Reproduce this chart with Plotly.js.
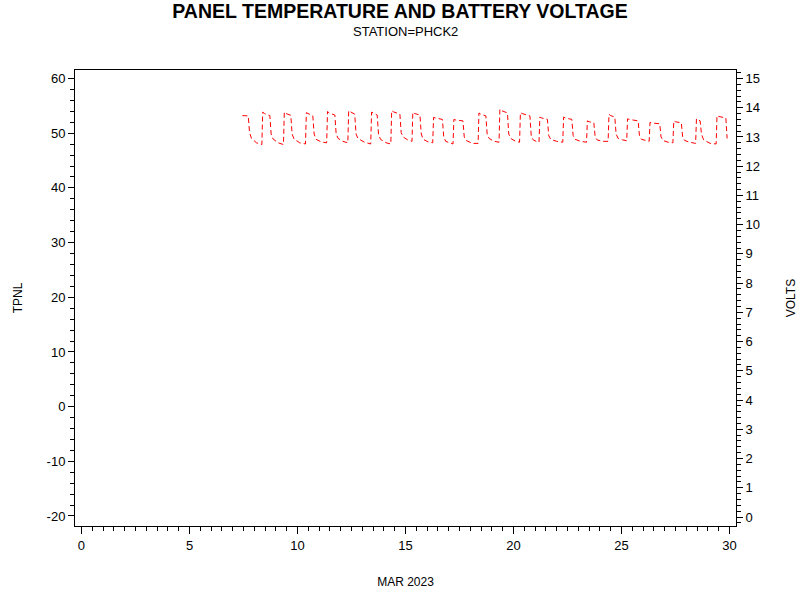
<!DOCTYPE html>
<html>
<head>
<meta charset="utf-8">
<script src="https://cdn.plot.ly/plotly-3.0.1.min.js"></script>
<style>html,body{margin:0;padding:0;background:#fff;}#chart{width:800px;height:600px;}</style>
</head>
<body>
<div id="chart"></div>
<script>
// Day of month (March 2023, fractional) and battery voltage readings
var voltDay = [
  7.45, 7.72, 7.78, 7.87, 8.10, 8.35,
  8.39, 8.47, 8.72, 8.78, 8.87, 9.10, 9.35,
  9.39, 9.47, 9.69, 9.75, 9.84, 10.10, 10.37,
  10.41, 10.50, 10.71, 10.77, 10.86, 11.10, 11.35,
  11.39, 11.47, 11.73, 11.79, 11.88, 12.10, 12.33,
  12.37, 12.45, 12.65, 12.71, 12.80, 13.10, 13.39,
  13.43, 13.50, 13.69, 13.75, 13.84, 14.10, 14.32,
  14.36, 14.44, 14.74, 14.80, 14.89, 15.10, 15.30,
  15.34, 15.42, 15.67, 15.73, 15.82, 16.05, 16.26,
  16.30, 16.38, 16.71, 16.77, 16.86, 17.05, 17.20,
  17.24, 17.32, 17.66, 17.72, 17.81, 18.10, 18.36,
  18.40, 18.48, 18.72, 18.78, 18.87, 19.10, 19.33,
  19.37, 19.45, 19.72, 19.78, 19.87, 20.10, 20.28,
  20.32, 20.40, 20.76, 20.82, 20.91, 21.05, 21.18,
  21.22, 21.30, 21.57, 21.63, 21.72, 22.00, 22.28,
  22.32, 22.40, 22.70, 22.76, 22.85, 23.10, 23.38,
  23.42, 23.50, 23.72, 23.78, 23.87, 24.10, 24.38,
  24.42, 24.50, 24.69, 24.75, 24.84, 25.05, 25.24,
  25.28, 25.36, 25.77, 25.83, 25.92, 26.10, 26.28,
  26.32, 26.40, 26.77, 26.83, 26.92, 27.15, 27.38,
  27.42, 27.50, 27.77, 27.83, 27.92, 28.15, 28.43,
  28.47, 28.52, 28.64, 28.70, 28.80, 29.10, 29.38,
  29.42, 29.50, 29.83, 29.89
];
var voltVal = [
  13.73, 13.72, 13.15, 12.95, 12.80, 12.74,
  13.85, 13.80, 13.73, 13.10, 12.93, 12.80, 12.74,
  13.85, 13.80, 13.74, 13.10, 12.93, 12.80, 12.76,
  13.83, 13.80, 13.72, 13.10, 12.92, 12.83, 12.80,
  13.87, 13.82, 13.75, 13.10, 12.95, 12.85, 12.80,
  13.90, 13.86, 13.78, 13.10, 12.95, 12.82, 12.76,
  13.85, 13.82, 13.75, 13.10, 12.92, 12.80, 12.76,
  13.90, 13.86, 13.78, 13.15, 13.00, 12.90, 12.85,
  13.85, 13.80, 13.75, 13.10, 12.92, 12.83, 12.80,
  13.67, 13.65, 13.60, 13.00, 12.85, 12.80, 12.76,
  13.60, 13.58, 13.55, 13.00, 12.88, 12.78, 12.78,
  13.82, 13.78, 13.72, 13.10, 12.95, 12.85, 12.82,
  13.95, 13.90, 13.82, 13.10, 12.95, 12.85, 12.82,
  13.83, 13.80, 13.72, 13.05, 12.90, 12.85, 12.82,
  13.68, 13.65, 13.60, 13.05, 12.92, 12.85, 12.82,
  13.68, 13.65, 13.60, 13.05, 12.92, 12.85, 12.82,
  13.55, 13.52, 13.48, 13.00, 12.90, 12.85, 12.85,
  13.77, 13.73, 13.68, 13.10, 12.95, 12.90, 12.87,
  13.62, 13.60, 13.55, 13.05, 12.92, 12.88, 12.85,
  13.50, 13.48, 13.45, 13.00, 12.88, 12.82, 12.80,
  13.55, 13.52, 13.48, 13.00, 12.88, 12.82, 12.78,
  13.62, 13.60, 13.55, 13.10, 12.90, 12.78, 12.76,
  13.73, 13.70, 13.65, 12.95
];
// Panel temperature (no readings shown in the period)
var tpnlDay = [];
var tpnlVal = [];

var xTicks = [0, 5, 10, 15, 20, 25, 30];
var leftTicks = [-20, -10, 0, 10, 20, 30, 40, 50, 60];
var rightTicks = [0,1,2,3,4,5,6,7,8,9,10,11,12,13,14,15];

var fontFam = '"Liberation Sans", Arial, sans-serif';

var traces = [
  {x: tpnlDay, y: tpnlVal, xaxis: 'x', yaxis: 'y', type: 'scatter', mode: 'lines',
   name: 'TPNL', line: {color: 'black', width: 1}, showlegend: false, hoverinfo: 'skip'},
  {x: voltDay, y: voltVal, xaxis: 'x', yaxis: 'y2', type: 'scatter', mode: 'lines',
   name: 'VOLTS', line: {color: '#ff0000', width: 1, dash: '5px,3px'}, showlegend: false}
];

var layout = {
  width: 800, height: 600,
  margin: {l: 75, r: 64, t: 70, b: 74, pad: 0},
  paper_bgcolor: '#ffffff', plot_bgcolor: '#ffffff',
  font: {family: fontFam, size: 13, color: '#000'},
  showlegend: false,
  title: {text: '<b>PANEL TEMPERATURE AND BATTERY VOLTAGE</b>', font: {family: fontFam, size: 19.5, color: '#000'},
          x: 0.5, xanchor: 'center', y: 0.982, yanchor: 'middle'},
  annotations: [
    {text: 'STATION=PHCK2', xref: 'paper', yref: 'paper', x: 0.5, y: 1 + 39/456, xanchor: 'center',
     showarrow: false, font: {family: fontFam, size: 13, color: '#000'}, yanchor: 'middle'}
  ],
  xaxis: {
    range: [-0.3, 30.3], tickvals: xTicks, ticktext: xTicks.map(String),
    showline: true, linecolor: '#000', linewidth: 1, mirror: true,
    ticks: 'outside', ticklen: 7, tickcolor: '#000', tickwidth: 1,
    minor: {dtick: 0.5, tick0: 0, ticks: 'outside', ticklen: 4, tickcolor: '#000', showgrid: false},
    showgrid: false, zeroline: false, tickfont: {size: 13},
    title: {text: 'MAR 2023', font: {size: 12}, standoff: 26}
  },
  yaxis: {
    range: [-21.83, 61.56], tickvals: leftTicks, ticktext: leftTicks.map(String),
    showline: true, linecolor: '#000', linewidth: 1,
    ticks: 'outside', ticklen: 6, tickcolor: '#000', tickwidth: 1,
    minor: {dtick: 2, tick0: 0, ticks: 'outside', ticklen: 4, tickcolor: '#000', showgrid: false},
    showgrid: false, zeroline: false, tickfont: {size: 13},
    title: {text: 'TPNL', font: {size: 12}, standoff: 21}
  },
  yaxis2: {
    range: [-0.308, 15.29], overlaying: 'y', side: 'right',
    tickvals: rightTicks, ticktext: rightTicks.map(String),
    showline: true, linecolor: '#000', linewidth: 1,
    ticks: 'outside', ticklen: 6, tickcolor: '#000', tickwidth: 1,
    minor: {dtick: 0.2, tick0: 0, ticks: 'outside', ticklen: 4, tickcolor: '#000', showgrid: false},
    showgrid: false, zeroline: false, tickfont: {size: 13},
    title: {text: 'VOLTS', font: {size: 12}, standoff: 27}
  }
};

Plotly.newPlot('chart', traces, layout, {staticPlot: true, displayModeBar: false});
</script>
</body>
</html>
